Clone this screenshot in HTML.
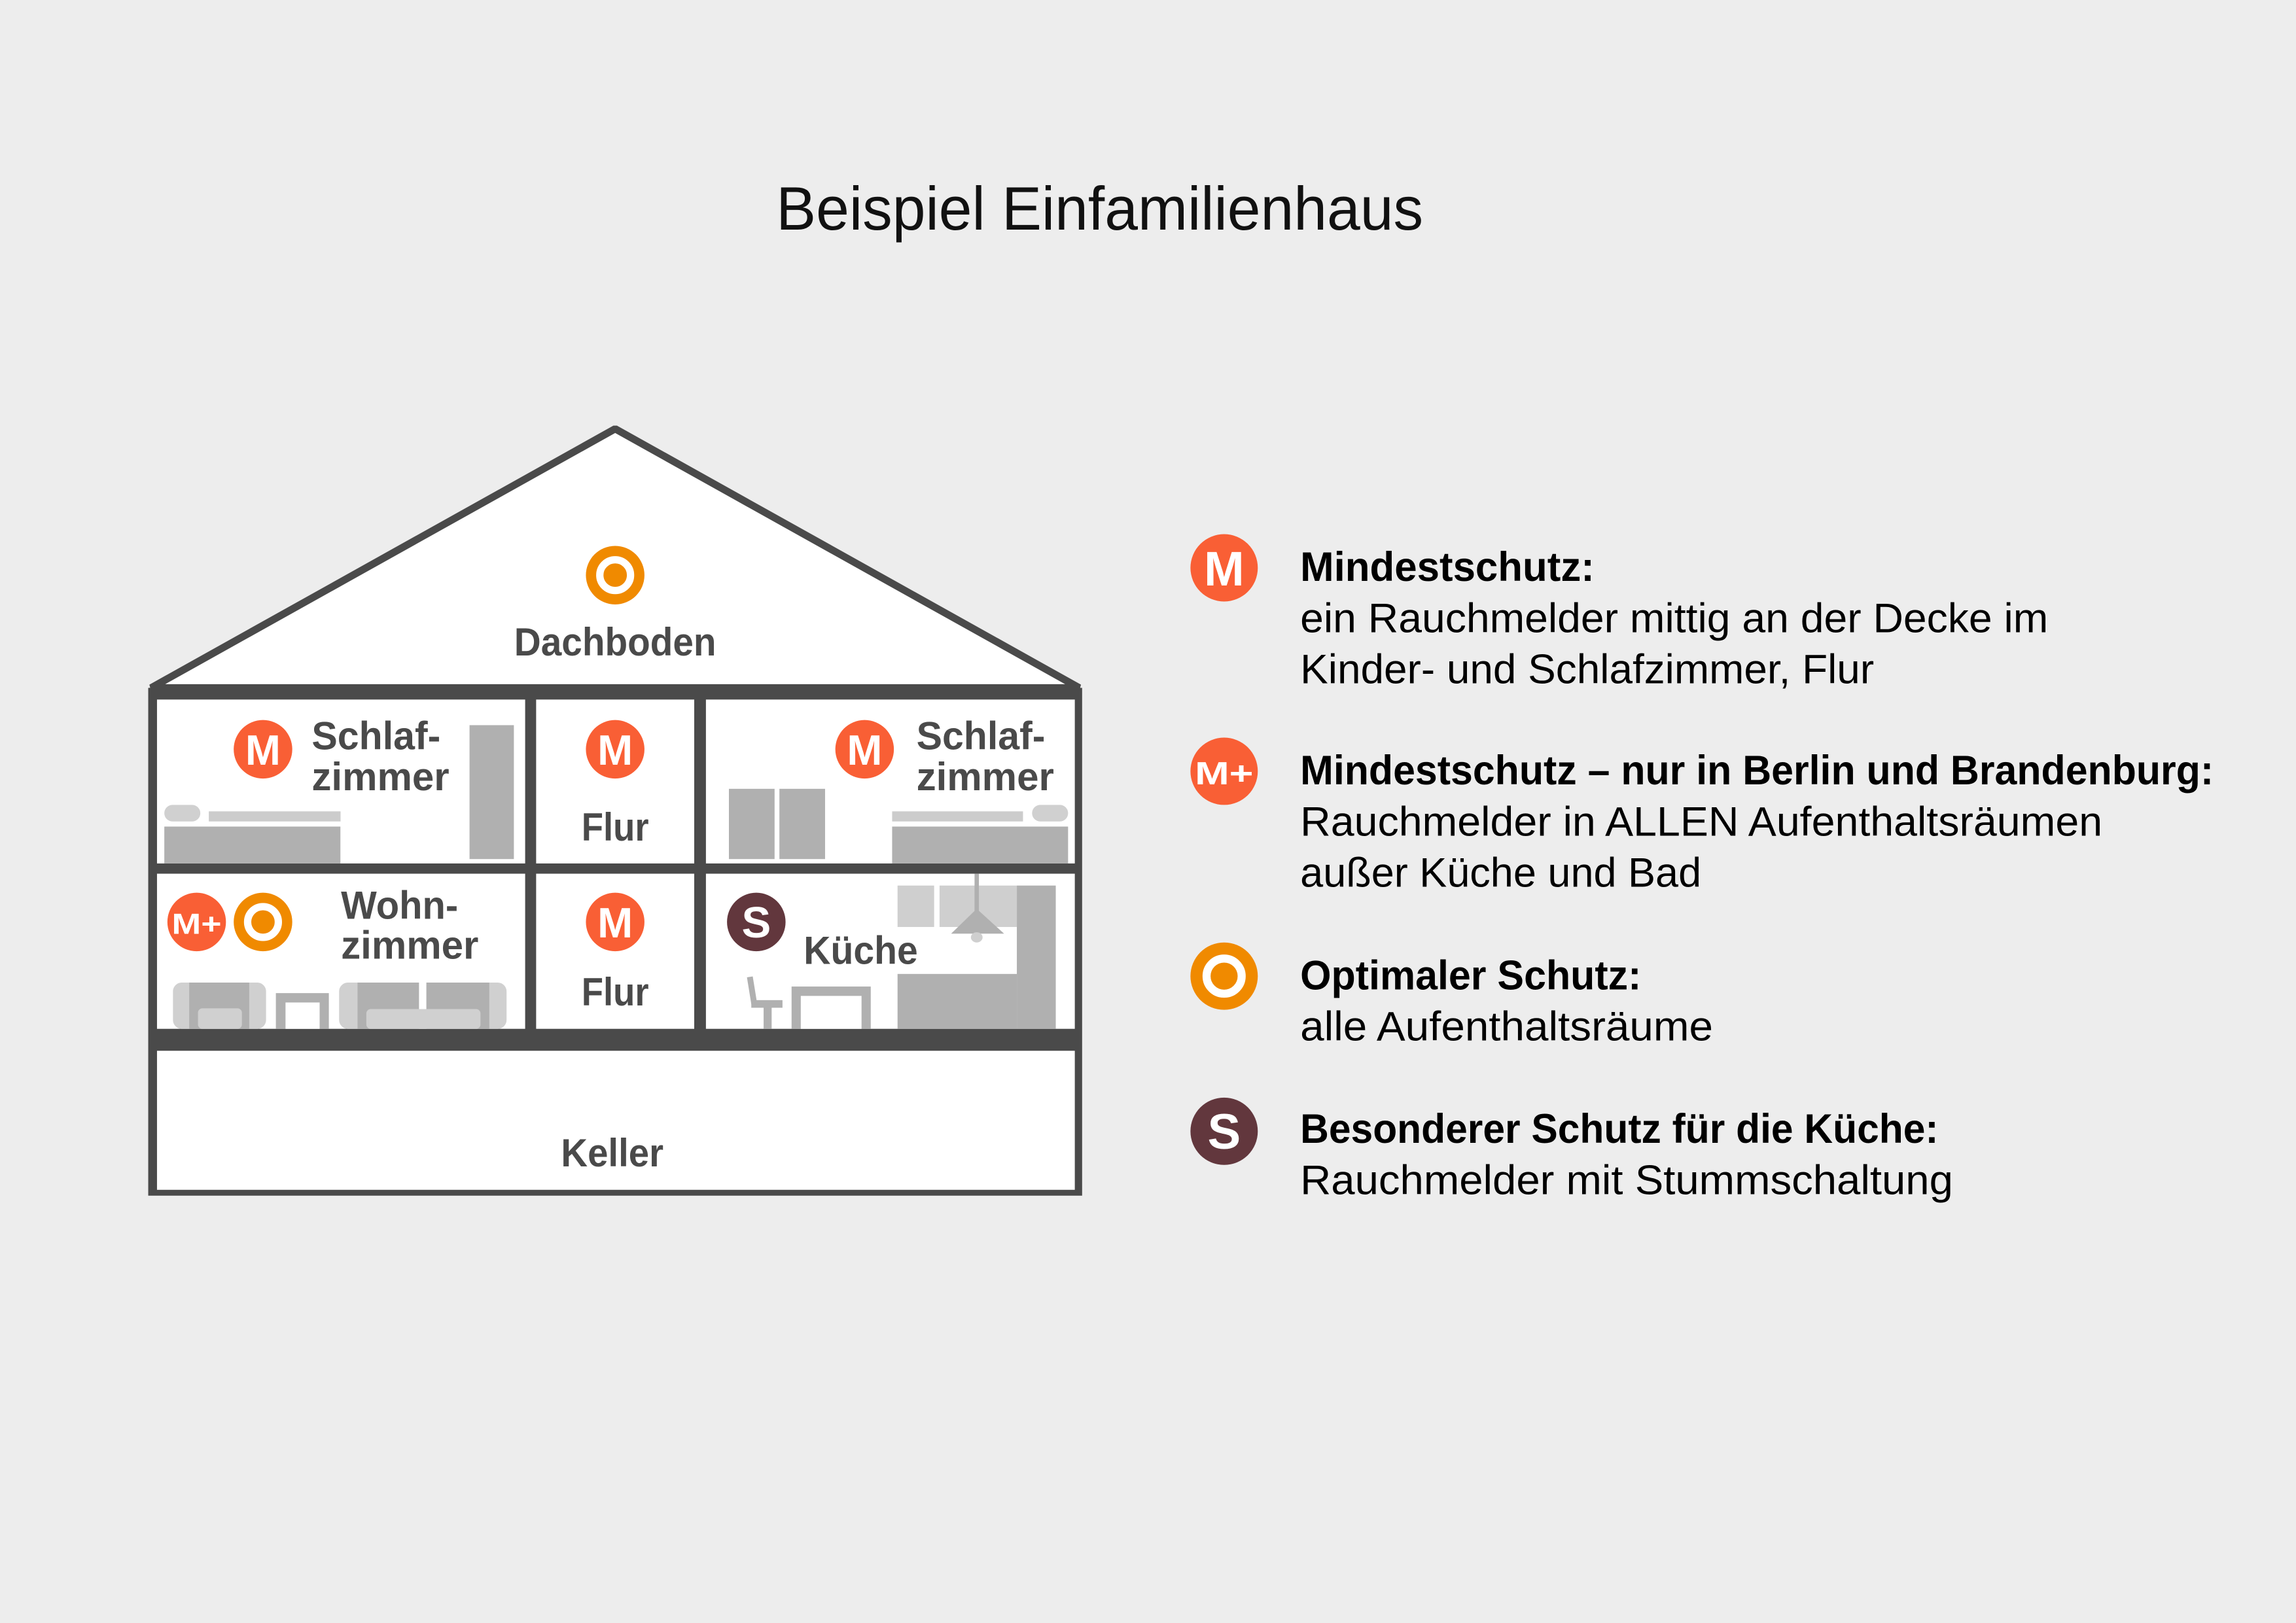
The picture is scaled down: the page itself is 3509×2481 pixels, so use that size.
<!DOCTYPE html>
<html><head><meta charset="utf-8"><style>
html,body{margin:0;padding:0;background:#ededed;}
svg{display:block;}
text{font-family:"Liberation Sans",sans-serif;}
.r{font-weight:bold;font-size:27px;fill:#4a4a4a;}
.lb{font-weight:bold;font-size:28px;fill:#000;}
.ln{font-size:28px;fill:#000;}
.ic{font-weight:bold;fill:#fff;text-anchor:middle;}
</style></head><body>
<svg width="3509" height="2481" viewBox="0 0 1568 1109" xmlns="http://www.w3.org/2000/svg">
<rect width="1568" height="1109" fill="#ededed"/>
<text x="751" y="157" font-size="42" text-anchor="middle" textLength="442" lengthAdjust="spacingAndGlyphs" fill="#111">Beispiel Einfamilienhaus</text>

<!-- house -->
<polygon points="103,470 420,293 737,470" fill="#fff" stroke="#4a4a4a" stroke-width="5" stroke-linejoin="bevel"/>
<rect x="101" y="470" width="638" height="347" fill="#4a4a4a"/>
<rect x="107" y="478" width="251.5" height="112" fill="#fff"/>
<rect x="366" y="478" width="108" height="112" fill="#fff"/>
<rect x="482" y="478" width="252" height="112" fill="#fff"/>
<rect x="107" y="597" width="251.5" height="106" fill="#fff"/>
<rect x="366" y="597" width="108" height="106" fill="#fff"/>
<rect x="482" y="597" width="252" height="106" fill="#fff"/>
<rect x="107" y="718" width="627" height="95" fill="#fff"/>

<!-- Schlafzimmer 1 furniture -->
<rect x="320.5" y="495.5" width="30.3" height="91.5" fill="#b0b0b0"/>
<rect x="112" y="550" width="24.6" height="11.3" rx="5.6" fill="#d0d0d0"/>
<rect x="142.4" y="554.4" width="90" height="6.9" fill="#cccccc"/>
<rect x="112" y="564.8" width="120.3" height="25.2" fill="#b0b0b0"/>
<!-- Schlafzimmer 2 furniture -->
<rect x="497.7" y="539" width="31.2" height="48" fill="#b0b0b0"/>
<rect x="532.2" y="539" width="31.2" height="48" fill="#b0b0b0"/>
<rect x="704.8" y="550" width="24.6" height="11.3" rx="5.6" fill="#d0d0d0"/>
<rect x="609.2" y="554.4" width="89.4" height="6.9" fill="#cccccc"/>
<rect x="609.2" y="564.8" width="120.2" height="25.2" fill="#b0b0b0"/>

<!-- Wohnzimmer furniture -->
<rect x="117.9" y="671.4" width="63.6" height="31.6" rx="6" fill="#d0d0d0"/>
<rect x="129" y="671.4" width="41" height="31.6" fill="#b0b0b0"/>
<rect x="135" y="689" width="30" height="14" rx="3" fill="#d0d0d0"/>
<rect x="188.2" y="678.6" width="36.2" height="24.4" fill="#b0b0b0"/>
<rect x="194.8" y="685" width="23.3" height="18" fill="#fff"/>
<rect x="231.4" y="671.4" width="114.4" height="31.6" rx="6" fill="#d0d0d0"/>
<rect x="244" y="671.4" width="42" height="31.6" fill="#b0b0b0"/>
<rect x="291" y="671.4" width="43" height="31.6" fill="#b0b0b0"/>
<rect x="286" y="671.4" width="5" height="31.6" fill="#fff"/>
<rect x="250" y="689.5" width="78" height="13.5" rx="3" fill="#d0d0d0"/>

<!-- Küche furniture -->
<rect x="612.9" y="605.1" width="25" height="28.3" fill="#cfcfcf"/>
<rect x="641.6" y="605.1" width="52.8" height="28.3" fill="#cfcfcf"/>
<rect x="694.4" y="605.1" width="26.6" height="97.9" fill="#b0b0b0"/>
<rect x="612.9" y="665.5" width="81.5" height="37.5" fill="#b0b0b0"/>
<rect x="665.5" y="597" width="3" height="26" fill="#b0b0b0"/>
<polygon points="667,621 649.5,638 685.7,638" fill="#b0b0b0"/>
<rect x="663" y="637" width="8" height="7" rx="4" fill="#cfcfcf"/>
<rect x="540.5" y="674.1" width="54.1" height="28.9" fill="#b0b0b0"/>
<rect x="546.8" y="680.5" width="41.5" height="22.5" fill="#fff"/>
<line x1="512" y1="667.5" x2="515" y2="686" stroke="#b0b0b0" stroke-width="4"/>
<rect x="513" y="683.4" width="21.3" height="5.2" fill="#b0b0b0"/>
<rect x="521.4" y="688" width="5.5" height="15" fill="#b0b0b0"/>

<!-- room icons -->
<g>
<circle cx="179.4" cy="512" r="20" fill="#f95f35"/><text class="ic" x="179.4" y="522.5" font-size="29">M</text>
<circle cx="420" cy="512" r="20" fill="#f95f35"/><text class="ic" x="420" y="522.5" font-size="29">M</text>
<circle cx="590.4" cy="512" r="20" fill="#f95f35"/><text class="ic" x="590.4" y="522.5" font-size="29">M</text>
<circle cx="420" cy="630" r="20" fill="#f95f35"/><text class="ic" x="420" y="640.5" font-size="29">M</text>
<circle cx="134.1" cy="630" r="20" fill="#f95f35"/><text class="ic" x="134.1" y="638" font-size="20" textLength="34" lengthAdjust="spacingAndGlyphs">M+</text>
<circle cx="179.4" cy="630" r="20" fill="#f08a00"/><circle cx="179.4" cy="630" r="10.5" fill="none" stroke="#fff" stroke-width="5"/>
<circle cx="420" cy="393" r="20" fill="#f08a00"/><circle cx="420" cy="393" r="10.5" fill="none" stroke="#fff" stroke-width="5"/>
<circle cx="516.4" cy="630" r="20" fill="#62373d"/><text class="ic" x="516.4" y="640.5" font-size="30">S</text>
</g>

<!-- room labels -->
<text class="r" x="212.7" y="512" textLength="88" lengthAdjust="spacingAndGlyphs">Schlaf-</text>
<text class="r" x="212.7" y="540" textLength="94" lengthAdjust="spacingAndGlyphs">zimmer</text>
<text class="r" x="625.8" y="512" textLength="88" lengthAdjust="spacingAndGlyphs">Schlaf-</text>
<text class="r" x="625.8" y="540" textLength="94" lengthAdjust="spacingAndGlyphs">zimmer</text>
<text class="r" x="420" y="574.5" text-anchor="middle" textLength="46" lengthAdjust="spacingAndGlyphs">Flur</text>
<text class="r" x="420" y="687" text-anchor="middle" textLength="46" lengthAdjust="spacingAndGlyphs">Flur</text>
<text class="r" x="232.7" y="627.8" textLength="80" lengthAdjust="spacingAndGlyphs">Wohn-</text>
<text class="r" x="232.7" y="655" textLength="94" lengthAdjust="spacingAndGlyphs">zimmer</text>
<text class="r" x="548.8" y="658.6" textLength="78" lengthAdjust="spacingAndGlyphs">Küche</text>
<text class="r" x="420" y="448" text-anchor="middle" textLength="138" lengthAdjust="spacingAndGlyphs">Dachboden</text>
<text class="r" x="418" y="797" text-anchor="middle" textLength="70" lengthAdjust="spacingAndGlyphs">Keller</text>

<!-- legend icons -->
<circle cx="836" cy="388" r="23" fill="#f95f35"/><text class="ic" x="836" y="400" font-size="33">M</text>
<circle cx="836" cy="527" r="23" fill="#f95f35"/><text class="ic" x="836" y="536" font-size="22" textLength="40" lengthAdjust="spacingAndGlyphs">M+</text>
<circle cx="836" cy="667" r="23" fill="#f08a00"/><circle cx="836" cy="667" r="12" fill="none" stroke="#fff" stroke-width="5.5"/>
<circle cx="836" cy="773" r="23" fill="#62373d"/><text class="ic" x="836" y="785" font-size="34">S</text>

<!-- legend text -->
<text class="lb" x="888" y="397" textLength="201" lengthAdjust="spacingAndGlyphs">Mindestschutz:</text>
<text class="ln" x="888" y="432" textLength="511" lengthAdjust="spacingAndGlyphs">ein Rauchmelder mittig an der Decke im</text>
<text class="ln" x="888" y="467" textLength="392" lengthAdjust="spacingAndGlyphs">Kinder- und Schlafzimmer, Flur</text>
<text class="lb" x="888" y="536" textLength="624" lengthAdjust="spacingAndGlyphs">Mindestschutz – nur in Berlin und Brandenburg:</text>
<text class="ln" x="888" y="571" textLength="548" lengthAdjust="spacingAndGlyphs">Rauchmelder in ALLEN Aufenthaltsräumen</text>
<text class="ln" x="888" y="606" textLength="274" lengthAdjust="spacingAndGlyphs">außer Küche und Bad</text>
<text class="lb" x="888" y="676" textLength="233" lengthAdjust="spacingAndGlyphs">Optimaler Schutz:</text>
<text class="ln" x="888" y="711" textLength="282" lengthAdjust="spacingAndGlyphs">alle Aufenthaltsräume</text>
<text class="lb" x="888" y="781" textLength="436" lengthAdjust="spacingAndGlyphs">Besonderer Schutz für die Küche:</text>
<text class="ln" x="888" y="816" textLength="446" lengthAdjust="spacingAndGlyphs">Rauchmelder mit Stummschaltung</text>
</svg>
</body></html>
